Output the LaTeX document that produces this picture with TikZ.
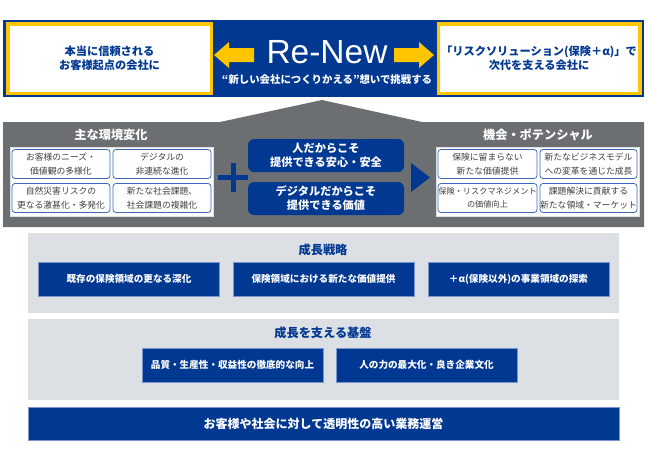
\documentclass[tikz,border=0pt]{standalone}
\usepackage{fontspec}
\setmainfont{Noto Sans CJK JP}
\newfontfamily\latinfont{Liberation Sans}
\usetikzlibrary{positioning}
\definecolor{navy}{RGB}{0,56,146}
\definecolor{gold}{RGB}{255,198,0}
\definecolor{slate}{RGB}{108,111,114}
\definecolor{mist}{RGB}{220,223,228}
\definecolor{edgeblue}{RGB}{62,104,184}
\definecolor{ink}{RGB}{64,64,64}

\begin{document}
\begin{tikzpicture}[x=1pt, y=-1pt,
    goalbox/.style={draw=gold, line width=3.5pt, fill=white, text=navy, align=center,
        font=\bfseries\fontsize{11.2}{14}\selectfont, inner sep=0pt},
    trendbox/.style={draw=edgeblue, line width=0.8pt, rounded corners=3pt, fill=white,
        text=ink, align=center, font=\fontsize{8.8}{13.5}\selectfont,
        minimum height=29pt, inner sep=0pt},
    pillbox/.style={fill=navy, rounded corners=6pt, text=white, align=center,
        font=\bfseries\fontsize{11.2}{14}\selectfont, minimum width=156pt, minimum height=33pt},
    planbox/.style={fill=navy, draw=edgeblue!70, line width=0.6pt, text=white,
        font=\bfseries\fontsize{9.6}{12}\selectfont, minimum width=181pt, minimum height=34pt},
    headline/.style={font=\bfseries\fontsize{12.2}{14}\selectfont}]
    \useasboundingbox (0,0) rectangle (648,463);

    % Vision band
    \fill[navy] (3,20) rectangle (644,97);
    \node[goalbox, minimum width=203.5pt, minimum height=69.5pt] (trust) at (109.5,58.5)
        {本当に信頼される\\お客様起点の会社に};
    \node[goalbox, minimum width=201.5pt, minimum height=69.5pt] (next) at (539,58.5)
        {「リスクソリューション(保険＋α)」で\\次代を支える会社に};
    \fill[gold] (214,55) -- (229,42) -- (229,48) -- (254,48) -- (254,62) -- (229,62) -- (229,68) -- cycle;
    \fill[gold] (434,55) -- (419,42) -- (419,48) -- (394,48) -- (394,62) -- (419,62) -- (419,68) -- cycle;
    \node[anchor=base, text=white, font=\latinfont\fontsize{33.5}{36}\selectfont] (renew) at (327,63) {Re-New};
    \node[text=white, font=\bfseries\fontsize{10.4}{12}\selectfont] (motto) at (327,80)
        {“新しい会社につくりかえる”想いで挑戦する};

    % Environment and opportunities
    \fill[slate] (3,122) -- (220,122) -- (322,100) -- (422,122) -- (644,122) -- (644,227) -- (3,227) -- cycle;
    \node[headline, text=white] (envtitle) at (111,135) {主な環境変化};
    \node[headline, text=white] (optitle) at (538,135) {機会・ポテンシャル};
    \draw[fill=white, draw=mist] (10,147) rectangle (213,216);
    \draw[fill=white, draw=mist] (436,147) rectangle (639,216);

    \node[trendbox, minimum width=98pt] (needs) at (61,164) {お客様のニーズ・\\価値観の多様化};
    \node[trendbox, minimum width=98pt] (digital) at (162,164) {デジタルの\\非連続な進化};
    \node[trendbox, minimum width=98pt] (disaster) at (61,198) {自然災害リスクの\\更なる激甚化・多発化};
    \node[trendbox, minimum width=98pt] (social) at (162,198) {新たな社会課題、\\社会課題の複雑化};

    \node[trendbox, minimum width=99pt] (beyond) at (487.5,164) {保険に留まらない\\新たな価値提供};
    \node[trendbox, minimum width=97pt] (model) at (588.5,164) {新たなビジネスモデル\\への変革を通じた成長};
    \node[trendbox, minimum width=99pt, font=\fontsize{8.2}{13.5}\selectfont] (riskmgmt) at (487.5,198) {保険・リスクマネジメント\\の価値向上};
    \node[trendbox, minimum width=97pt] (market) at (588.5,198) {課題解決に貢献する\\新たな領域・マーケット};

    \fill[navy] (218,174.5) rectangle (248,179.5);
    \fill[navy] (230.5,163) rectangle (235.5,192);
    \node[pillbox] (people) at (326,155.5) {人だからこそ\\提供できる安心・安全};
    \node[pillbox] (digivalue) at (326,198.5) {デジタルだからこそ\\提供できる価値};
    \fill[navy] (411,163) -- (430,177.5) -- (411,192) -- cycle;

    % Growth strategy
    \fill[mist] (28,233) rectangle (619,313);
    \node[headline, text=navy] (strategy) at (323,250) {成長戦略};
    \node[planbox] (deepen) at (129,279) {既存の保険領域の更なる深化};
    \node[planbox] (newvalue) at (323.5,279) {保険領域における新たな価値提供};
    \node[planbox] (explore) at (518.5,279) {＋α(保険以外)の事業領域の探索};

    % Foundation
    \fill[mist] (28,319) rectangle (619,400);
    \node[headline, text=navy] (base) at (323,333) {成長を支える基盤};
    \node[planbox] (quality) at (232.5,365) {品質・生産性・収益性の徹底的な向上};
    \node[planbox] (talent) at (426.5,365) {人の力の最大化・良き企業文化};

    % Governance
    \node[fill=navy, draw=edgeblue!70, line width=0.6pt, text=white, minimum width=591pt, minimum height=33pt,
        font=\bfseries\fontsize{12}{14}\selectfont] (governance) at (323.5,423.5)
        {お客様や社会に対して透明性の高い業務運営};
\end{tikzpicture}
\end{document}
